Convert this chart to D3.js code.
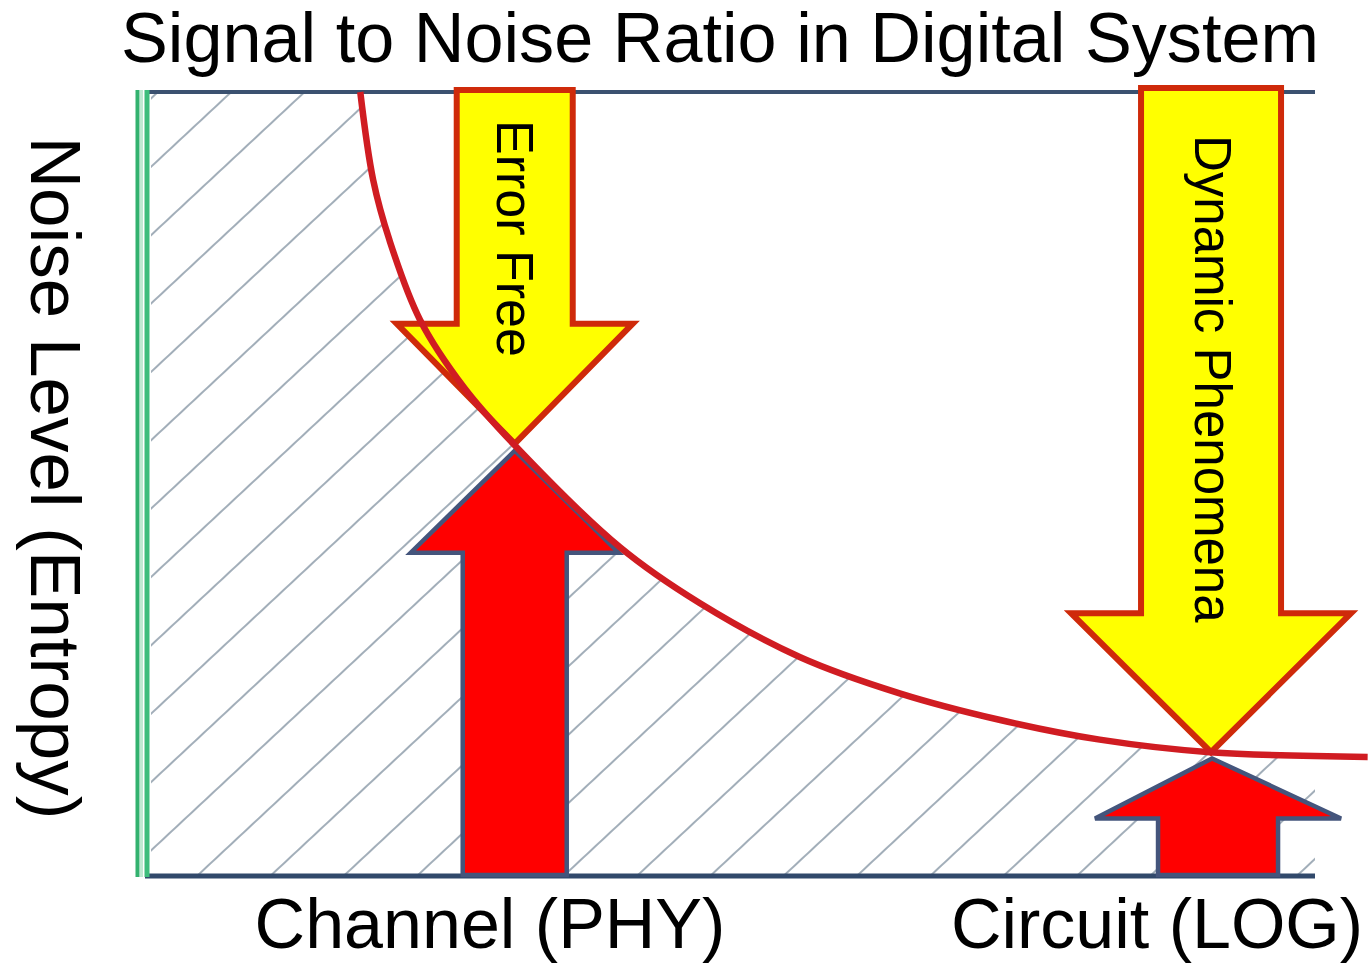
<!DOCTYPE html>
<html>
<head>
<meta charset="utf-8">
<script src="https://cdn.jsdelivr.net/npm/d3@7"></script>
<style>
  body { margin: 0; background: #fff; }
  text { font-family: 'Liberation Sans', Arial, sans-serif; fill: #000; }
</style>
</head>
<body>
<script>
// values (x: % of plot width, y: noise level %)
const categories = ['Channel (PHY)', 'Circuit (LOG)'];
const categoryX = [31.6, 91.2];
const signalLevel = [54.3, 15.1];     // red arrow tips
const errorFreeLevel = [55.2, 15.9];  // yellow arrow tips
const arrowLabels = ['Error Free', 'Dynamic Phenomena'];

const curveX = [18.4, 19.5, 20.9, 23.5, 27.3, 31.6, 40.6, 47.4, 56.0, 64.5, 73.1, 81.6, 91.0, 104.5];
const curveY = [100, 88.8, 81.1, 71.0, 62.3, 55.0, 42.0, 34.9, 28.0, 23.4, 20.0, 17.5, 15.9, 15.3];

const width = 1368;
const height = 964;

const x = d3.scaleLinear().domain([0, 100]).range([145, 1315]);
const y = d3.scaleLinear().domain([0, 100]).range([877, 92]);

const svg = d3
  .select('body')
  .append('svg')
  .attr('width', width)
  .attr('height', height);

const defs = svg.append('defs');

// diagonal hatching
defs
  .append('pattern')
  .attr('id', 'hatch')
  .attr('patternUnits', 'userSpaceOnUse')
  .attr('width', 20)
  .attr('height', 50)
  .attr('patternTransform', 'rotate(-43)')
  .append('line')
  .attr('x1', 0)
  .attr('x2', 20)
  .attr('y1', 25)
  .attr('y2', 25)
  .attr('stroke', '#6f8192')
  .attr('stroke-width', 1.3);

const noiseLine = d3.line().curve(d3.curveCatmullRom.alpha(0.5));
const curvePts = curveX.map((d, i) => [x(d), y(curveY[i])]);

// hatched area under the curve
const inside = curvePts.filter((p) => p[0] <= x(100));
const areaPts = [[x(0) + 6, y(100)], [inside[0][0], y(100)]];
svg
  .append('path')
  .attr('d', `${d3.line()(areaPts)}L${noiseLine(inside).slice(1)}L${x(100)},${y(curveY[curveY.length - 2])}L${x(100)},${y(0)}L${x(0) + 6},${y(0)}Z`)
  .attr('fill', 'url(#hatch)');

// frame
svg
  .append('line')
  .attr('x1', x(0))
  .attr('x2', x(100))
  .attr('y1', y(100))
  .attr('y2', y(100))
  .attr('stroke', '#3b5170')
  .attr('stroke-width', 4);

svg
  .append('line')
  .attr('x1', x(0))
  .attr('x2', x(100))
  .attr('y1', y(0) - 1)
  .attr('y2', y(0) - 1)
  .attr('stroke', '#31496b')
  .attr('stroke-width', 5);

// double green axis line
[[137.5, '#33b26f', 4], [141.5, '#bfe9d2', 3], [147, '#3dbd7c', 5]].forEach((g) => {
  svg
    .append('line')
    .attr('x1', g[0])
    .attr('x2', g[0])
    .attr('y1', y(100) - 2)
    .attr('y2', y(0))
    .attr('stroke', g[1])
    .attr('stroke-width', g[2]);
});

// arrow sizes (px)
const yellowSize = [
  { dx: 0, shaft: 58, head: 118, headLen: 120, top: 90 },
  { dx: -1, shaft: 70, head: 140, headLen: 139, top: 88 }
];
const redSize = [
  { dx: 0, shaft: 52, head: 104, headLen: 102 },
  { dx: 6, shaft: 60, head: 123, headLen: 60 }
];

function downArrow(cx, tip, s) {
  const base = tip - s.headLen;
  return d3.line()([
    [cx - s.shaft, s.top], [cx + s.shaft, s.top], [cx + s.shaft, base], [cx + s.head, base],
    [cx, tip], [cx - s.head, base], [cx - s.shaft, base]
  ]) + 'Z';
}

function upArrow(cx, tip, s) {
  const base = tip + s.headLen;
  const bottom = y(0) - 2;
  return d3.line()([
    [cx - s.shaft, bottom], [cx + s.shaft, bottom], [cx + s.shaft, base], [cx + s.head, base],
    [cx - s.dx, tip], [cx - s.head, base], [cx - s.shaft, base]
  ]) + 'Z';
}

categories.forEach((c, i) => {
  svg
    .append('path')
    .attr('d', upArrow(x(categoryX[i]) + redSize[i].dx, y(signalLevel[i]), redSize[i]))
    .attr('fill', '#ff0000')
    .attr('stroke', '#44557c')
    .attr('stroke-width', 4.5)
    .attr('stroke-linejoin', 'miter');

  svg
    .append('path')
    .attr('d', downArrow(x(categoryX[i]) + yellowSize[i].dx, y(errorFreeLevel[i]), yellowSize[i]))
    .attr('fill', '#ffff00')
    .attr('stroke', '#cf2a0a')
    .attr('stroke-width', 6)
    .attr('stroke-linejoin', 'miter');
});

// noise curve
svg
  .append('path')
  .attr('d', noiseLine(curvePts))
  .attr('fill', 'none')
  .attr('stroke', '#d01c22')
  .attr('stroke-width', 6.5);

// arrow labels (vertical)
const arrowLabelTop = [120, 135];
const arrowFont = [52, 51];
arrowLabels.forEach((t, i) => {
  const cx = x(categoryX[i]) + 1;
  svg
    .append('text')
    .attr('transform', `translate(${cx - arrowFont[i] * 0.36}, ${arrowLabelTop[i]}) rotate(90)`)
    .attr('font-size', arrowFont[i])
    .text(t);
});

// title
svg
  .append('text')
  .attr('x', 720)
  .attr('y', 62)
  .attr('text-anchor', 'middle')
  .attr('font-size', 70)
  .attr('textLength', 1198)
  .attr('lengthAdjust', 'spacingAndGlyphs')
  .text('Signal to Noise Ratio in Digital System');

// y axis title
svg
  .append('text')
  .attr('transform', `translate(31, 478) rotate(90)`)
  .attr('text-anchor', 'middle')
  .attr('font-size', 71)
  .text('Noise Level (Entropy)');

// category labels
const labelX = [490, 1157];
categories.forEach((c, i) => {
  svg
    .append('text')
    .attr('x', labelX[i])
    .attr('y', 948)
    .attr('text-anchor', 'middle')
    .attr('font-size', 70)
    .text(c);
});
</script>
</body>
</html>
